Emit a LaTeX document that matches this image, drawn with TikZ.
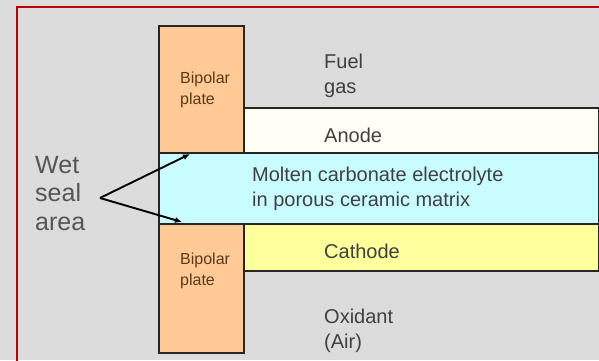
\documentclass[tikz,border=0pt]{standalone}
\usepackage{fontspec}
\setmainfont{Liberation Sans}
\usetikzlibrary{arrows.meta}
\definecolor{bgc}{HTML}{DCDCDC}
\definecolor{framec}{HTML}{C00000}
\definecolor{edgec}{HTML}{262626}
\definecolor{platec}{HTML}{FFCA96}
\definecolor{anodec}{HTML}{FFFFF6}
\definecolor{elecc}{HTML}{C8FCFF}
\definecolor{cathc}{HTML}{FFFF9C}
\definecolor{txtc}{HTML}{404040}
\definecolor{platetxt}{HTML}{5A3A18}
\definecolor{wettxt}{HTML}{555555}
\begin{document}
\begin{tikzpicture}[x=1pt,y=-1pt,
  layer/.style={draw=edgec, line width=1.6pt, inner sep=0pt, anchor=north west},
  lbl/.style={inner sep=0pt, anchor=north west, align=left, text=txtc,
    font=\fontsize{20}{24.5}\selectfont},
  platelbl/.style={inner sep=0pt, anchor=north west, align=left, text=platetxt,
    font=\fontsize{16}{21}\selectfont},
  wetlbl/.style={inner sep=0pt, anchor=north west, align=left, text=wettxt,
    font=\fontsize{25}{28.5}\selectfont},
  seal/.style={draw=black, line width=1.9pt, -{Latex[length=7pt,width=6pt]}}]
\useasboundingbox (0,0) rectangle (599,360);
\fill[bgc] (0,0) rectangle (599,360);
\begin{scope}
\clip (0,0) rectangle (599,360);
\draw[framec, line width=1.2pt] (17,7) rectangle (640,400);
\end{scope}
% layers
\node[layer, fill=elecc, minimum width=440, minimum height=71] (elec) at (158,152) {};
\node[layer, fill=anodec, minimum width=355, minimum height=45] (anode) at (243,107) {};
\node[layer, fill=cathc, minimum width=355, minimum height=47] (cath) at (243,223) {};
\node[layer, fill=platec, minimum width=85, minimum height=127] (bp1) at (158,25) {};
\node[layer, fill=platec, minimum width=85, minimum height=129] (bp2) at (158,223) {};
% texts
\node[platelbl] (bp1t) at (180,72) {Bipolar\\plate};
\node[platelbl] (bp2t) at (180,253) {Bipolar\\plate};
\node[lbl] (fuel) at (324,54) {Fuel\\gas};
\node[lbl] (anodet) at (324,128) {Anode};
\node[lbl] (elect) at (252,167) {Molten carbonate electrolyte\\in porous ceramic matrix};
\node[lbl] (catht) at (324,244) {Cathode};
\node[lbl] (oxid) at (324,309) {Oxidant\\(Air)};
\node[wetlbl] (wet) at (35,156) {Wet\\seal\\area};
% wet seal arrows
\coordinate (apex) at (100,198);
\coordinate (tipup) at (190,154);
\coordinate (tipdn) at (182,222);
\draw[seal] (apex) -- (tipup);
\draw[seal] (apex) -- (tipdn);
\end{tikzpicture}
\end{document}
